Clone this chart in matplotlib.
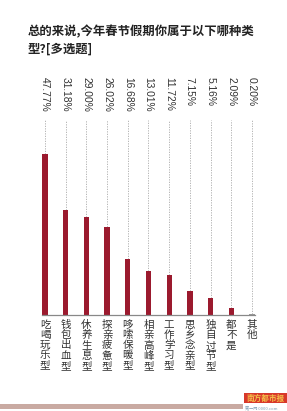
import matplotlib
matplotlib.use("Agg")
import matplotlib.pyplot as plt
from matplotlib.patches import Rectangle

plt.rcParams['font.family'] = ['Noto Sans CJK SC', 'DejaVu Sans']

categories = ["吃喝玩乐型", "钱包出血型", "休养生息型", "探亲疲惫型", "哆嗦保暖型",
              "相亲高峰型", "工作学习型", "思乡念亲型", "独自过节型", "都不是", "其他"]
values = [47.77, 31.18, 29.00, 26.02, 16.68, 13.01, 11.72, 7.15, 5.16, 2.09, 0.20]
value_labels = ["47.77%", "31.18%", "29.00%", "26.02%", "16.68%", "13.01%",
                "11.72%", "7.15%", "5.16%", "2.09%", "0.20%"]
title = "总的来说,今年春节假期你属于以下哪种类\n型?[多选题]"

W, H = 287, 411
fig = plt.figure(figsize=(W / 100, H / 100), dpi=100)
fig.patch.set_facecolor("white")

# axes placement in pixels
ax_left, ax_right = 34.65, 34.65 + 11 * 20.7
ax_top, ax_bot = 120, 315
ax = fig.add_axes([ax_left / W, (H - ax_bot) / H, (ax_right - ax_left) / W, (ax_bot - ax_top) / H])
ymax = (ax_bot - ax_top) / ((ax_bot - 154) / 47.77)
ax.set_xlim(-0.5, len(categories) - 0.5)
ax.set_ylim(0, ymax)
ax.axis("off")

x = list(range(len(categories)))
bar_color = "#9b1a2e"
colors = [bar_color] * (len(values) - 1) + ["#999999"]
ax.bar(x, values, width=0.26, color=colors, zorder=3)

# dotted guide lines
for xi, v in zip(x, values):
    ax.plot([xi, xi], [v, ymax], color="#aaaaaa", lw=0.6, ls=(0, (1.5, 1.5)), zorder=1)

# baseline
ax.plot([-0.15, 10.15], [0, 0], color="#888888", lw=0.9, zorder=4, clip_on=False)

# value labels (rotated)
for xi, lab in zip(x, value_labels):
    ax.text(xi, (ax_bot - 77) / (ax_bot - ax_top), lab, transform=ax.get_xaxis_transform(),
            rotation=270, ha="center", va="top", fontsize=7.4, color="#333333",
            family=["Liberation Sans"])

# category labels (vertical)
for xi, cat in zip(x, categories):
    ax.text(xi, -(320 - ax_bot) / (ax_bot - ax_top), "\n".join(cat),
            transform=ax.get_xaxis_transform(), ha="center", va="top",
            fontsize=7.6, color="#333333", linespacing=1.02)

# title
fig.text(28 / W, 1 - 25 / H, title, ha="left", va="top", fontsize=8.9,
         fontweight="bold", color="#222222", linespacing=1.45)

# bottom band and logo
fig.add_artist(Rectangle((0, 1 - 409 / H), 243 / W, 5 / H, transform=fig.transFigure,
                         color="#c9aaa2", lw=0))
fig.add_artist(Rectangle((244 / W, 1 - 403 / H), 43 / W, 10 / H, transform=fig.transFigure,
                         color="#d8382a", lw=0))
fig.text(265.5 / W, 1 - 398 / H, "南方都市报", ha="center", va="center", fontsize=5.5,
         color="#f5c04a", fontweight="bold")
fig.text(245 / W, 1 - 407.5 / H, "第一网 0000.com", ha="left", va="center", fontsize=3,
         color="#7a9ab0")

fig.savefig("out.png", dpi=100, facecolor="white")
